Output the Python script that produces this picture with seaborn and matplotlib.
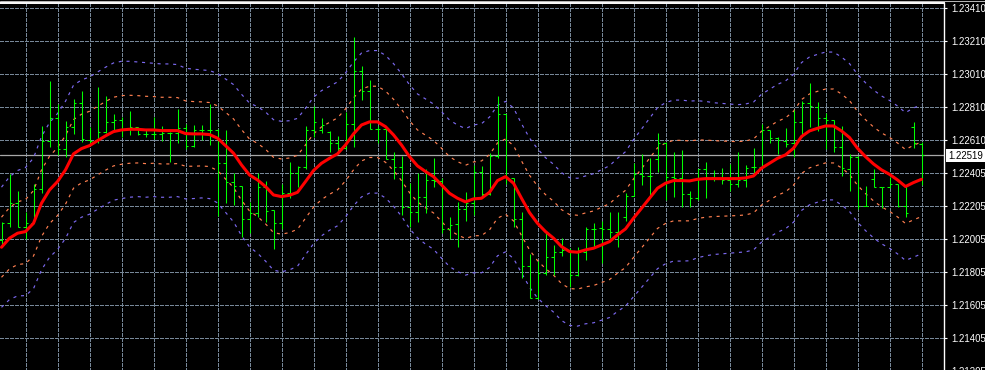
import numpy as np
import pandas as pd
import matplotlib
matplotlib.use("Agg")
import matplotlib.pyplot as plt
import matplotlib.transforms as mtransforms
from matplotlib.patches import Rectangle
from matplotlib.lines import Line2D
from matplotlib import font_manager
import seaborn as sns

# ---------------- data ----------------
opens = [
    1.22004, 1.22105, 1.22227, 1.22085, 1.22109, 1.22311, 1.22606, 1.22742, 1.22558, 1.22691,
    1.22833, 1.22610, 1.22606, 1.22659, 1.22720, 1.22732, 1.22679, 1.22691, 1.22647, 1.22647,
    1.22647, 1.22651, 1.22651, 1.22681, 1.22574, 1.22671, 1.22671, 1.22671, 1.22469, 1.22358,
    1.22332, 1.22130, 1.22166, 1.22328, 1.22186, 1.22105, 1.22287, 1.22408, 1.22449, 1.22671,
    1.22671, 1.22661, 1.22594, 1.22560, 1.22705, 1.23031, 1.22907, 1.22679, 1.22679, 1.22495,
    1.22449, 1.22206, 1.22176, 1.22267, 1.22368, 1.22364, 1.22071, 1.22101, 1.22192, 1.22227,
    1.22419, 1.22281, 1.22513, 1.22766, 1.22378, 1.22130, 1.21847, 1.21651, 1.21802, 1.21899,
    1.21934, 1.21944, 1.21792, 1.21934, 1.22069, 1.22075, 1.22069, 1.22055, 1.22146, 1.22273,
    1.22404, 1.22394, 1.22493, 1.22590, 1.22388, 1.22382, 1.22283, 1.22257, 1.22433, 1.22388,
    1.22382, 1.22368, 1.22344, 1.22368, 1.22449, 1.22449, 1.22671, 1.22621, 1.22604, 1.22590,
    1.22720, 1.22833, 1.22808, 1.22742, 1.22732, 1.22570, 1.22433, 1.22505, 1.22213, 1.22376,
    1.22326, 1.22326, 1.22344, 1.22210, 1.22691, 1.22584,
]
highs = [
    1.22116, 1.22404, 1.22301, 1.22176, 1.22344, 1.22695, 1.22968, 1.22829, 1.22726, 1.22859,
    1.22907, 1.22691, 1.22934, 1.22879, 1.22768, 1.22748, 1.22786, 1.22691, 1.22671, 1.22748,
    1.22695, 1.22661, 1.22798, 1.22707, 1.22701, 1.22701, 1.22829, 1.22675, 1.22671, 1.22408,
    1.22332, 1.22237, 1.22408, 1.22362, 1.22186, 1.22344, 1.22479, 1.22455, 1.22695, 1.22816,
    1.22742, 1.22665, 1.22635, 1.22780, 1.23237, 1.23059, 1.22974, 1.22695, 1.22691, 1.22538,
    1.22513, 1.22348, 1.22408, 1.22433, 1.22499, 1.22378, 1.22142, 1.22237, 1.22293, 1.22459,
    1.22453, 1.22530, 1.22877, 1.22766, 1.22378, 1.22176, 1.21920, 1.21879, 1.22049, 1.21974,
    1.22015, 1.21954, 1.21964, 1.22085, 1.22105, 1.22122, 1.22176, 1.22176, 1.22287, 1.22469,
    1.22524, 1.22499, 1.22655, 1.22600, 1.22538, 1.22550, 1.22303, 1.22433, 1.22475, 1.22429,
    1.22443, 1.22463, 1.22538, 1.22459, 1.22562, 1.22707, 1.22671, 1.22631, 1.22681, 1.22792,
    1.22849, 1.22954, 1.22839, 1.22776, 1.22732, 1.22693, 1.22526, 1.22513, 1.22334, 1.22433,
    1.22328, 1.22388, 1.22344, 1.22332, 1.22722, 1.22600,
]
lows = [
    1.21960, 1.22081, 1.22081, 1.22008, 1.22105, 1.22287, 1.22570, 1.22518, 1.22509, 1.22647,
    1.22598, 1.22586, 1.22594, 1.22651, 1.22671, 1.22627, 1.22641, 1.22643, 1.22631, 1.22614,
    1.22606, 1.22479, 1.22594, 1.22554, 1.22570, 1.22610, 1.22580, 1.22152, 1.22227, 1.22217,
    1.22021, 1.22045, 1.22142, 1.22116, 1.21950, 1.22069, 1.22257, 1.22328, 1.22433, 1.22627,
    1.22651, 1.22540, 1.22546, 1.22558, 1.22570, 1.22853, 1.22675, 1.22590, 1.22493, 1.22372,
    1.22154, 1.22081, 1.22116, 1.22166, 1.22324, 1.22045, 1.22010, 1.21964, 1.22122, 1.22156,
    1.22267, 1.22277, 1.22499, 1.22344, 1.22085, 1.21772, 1.21651, 1.21645, 1.21792, 1.21792,
    1.21907, 1.21722, 1.21786, 1.21883, 1.21954, 1.21863, 1.22015, 1.21960, 1.22122, 1.22273,
    1.22338, 1.22271, 1.22419, 1.22247, 1.22267, 1.22206, 1.22202, 1.22247, 1.22261, 1.22364,
    1.22342, 1.22301, 1.22328, 1.22324, 1.22404, 1.22445, 1.22594, 1.22526, 1.22570, 1.22509,
    1.22627, 1.22691, 1.22665, 1.22554, 1.22536, 1.22394, 1.22303, 1.22190, 1.22210, 1.22324,
    1.22196, 1.22318, 1.22206, 1.22146, 1.22560, 1.22338,
]
closes = [
    1.22105, 1.22227, 1.22085, 1.22109, 1.22311, 1.22606, 1.22742, 1.22558, 1.22691, 1.22833,
    1.22614, 1.22606, 1.22659, 1.22720, 1.22732, 1.22679, 1.22691, 1.22647, 1.22647, 1.22647,
    1.22651, 1.22651, 1.22681, 1.22574, 1.22671, 1.22671, 1.22671, 1.22469, 1.22358, 1.22332,
    1.22130, 1.22166, 1.22328, 1.22180, 1.22105, 1.22287, 1.22408, 1.22449, 1.22671, 1.22720,
    1.22701, 1.22594, 1.22560, 1.22705, 1.23031, 1.22907, 1.22679, 1.22679, 1.22495, 1.22449,
    1.22206, 1.22176, 1.22267, 1.22368, 1.22364, 1.22071, 1.22095, 1.22192, 1.22227, 1.22419,
    1.22281, 1.22513, 1.22766, 1.22378, 1.22130, 1.21847, 1.21651, 1.21802, 1.21899, 1.21934,
    1.21944, 1.21792, 1.21934, 1.22069, 1.22069, 1.22069, 1.22055, 1.22041, 1.22273, 1.22404,
    1.22394, 1.22394, 1.22590, 1.22388, 1.22382, 1.22283, 1.22257, 1.22433, 1.22388, 1.22382,
    1.22368, 1.22344, 1.22368, 1.22439, 1.22449, 1.22671, 1.22621, 1.22610, 1.22586, 1.22720,
    1.22833, 1.22816, 1.22742, 1.22732, 1.22570, 1.22439, 1.22505, 1.22213, 1.22213, 1.22326,
    1.22326, 1.22344, 1.22210, 1.22170, 1.22590, 1.22519,
]
ma_line = [
    1.21960, 1.22015, 1.22045, 1.22055, 1.22105, 1.22227, 1.22307, 1.22358, 1.22429, 1.22526,
    1.22558, 1.22576, 1.22606, 1.22635, 1.22661, 1.22671, 1.22675, 1.22675, 1.22671, 1.22671,
    1.22667, 1.22667, 1.22667, 1.22649, 1.22647, 1.22647, 1.22643, 1.22621, 1.22576, 1.22530,
    1.22459, 1.22398, 1.22368, 1.22328, 1.22277, 1.22267, 1.22275, 1.22293, 1.22358, 1.22425,
    1.22469, 1.22499, 1.22526, 1.22580, 1.22647, 1.22701, 1.22720, 1.22720, 1.22691, 1.22641,
    1.22580, 1.22509, 1.22453, 1.22419, 1.22388, 1.22338, 1.22287, 1.22257, 1.22235, 1.22253,
    1.22257, 1.22293, 1.22364, 1.22388, 1.22348, 1.22257, 1.22170, 1.22105, 1.22055, 1.22015,
    1.21964, 1.21934, 1.21930, 1.21944, 1.21954, 1.21974, 1.21994, 1.22035, 1.22071, 1.22136,
    1.22196, 1.22257, 1.22318, 1.22348, 1.22364, 1.22364, 1.22362, 1.22372, 1.22376, 1.22376,
    1.22376, 1.22376, 1.22376, 1.22380, 1.22392, 1.22439, 1.22469, 1.22499, 1.22520, 1.22560,
    1.22631, 1.22665, 1.22681, 1.22695, 1.22695, 1.22665, 1.22625, 1.22560, 1.22509, 1.22465,
    1.22429, 1.22402, 1.22368, 1.22328, 1.22352, 1.22372,
]
# half-width of the inner (orange) channel; outer (purple) channel is twice as wide
band_width = [
    0.00182, 0.00186, 0.00190, 0.00194, 0.00198, 0.00202, 0.00204, 0.00206, 0.00208, 0.00208,
    0.00208, 0.00208, 0.00208, 0.00208, 0.00208, 0.00208, 0.00206, 0.00204, 0.00204, 0.00202,
    0.00202, 0.00202, 0.00200, 0.00198, 0.00196, 0.00194, 0.00194, 0.00196, 0.00202, 0.00208,
    0.00214, 0.00218, 0.00222, 0.00226, 0.00228, 0.00228, 0.00226, 0.00224, 0.00222, 0.00222,
    0.00220, 0.00218, 0.00218, 0.00218, 0.00218, 0.00218, 0.00216, 0.00216, 0.00216, 0.00216,
    0.00216, 0.00218, 0.00218, 0.00220, 0.00220, 0.00222, 0.00222, 0.00222, 0.00222, 0.00224,
    0.00226, 0.00228, 0.00228, 0.00228, 0.00228, 0.00226, 0.00226, 0.00226, 0.00224, 0.00224,
    0.00224, 0.00224, 0.00224, 0.00224, 0.00226, 0.00228, 0.00230, 0.00232, 0.00234, 0.00238,
    0.00240, 0.00242, 0.00244, 0.00244, 0.00244, 0.00244, 0.00242, 0.00238, 0.00234, 0.00230,
    0.00228, 0.00226, 0.00224, 0.00224, 0.00224, 0.00224, 0.00224, 0.00224, 0.00224, 0.00224,
    0.00224, 0.00224, 0.00224, 0.00224, 0.00224, 0.00224, 0.00224, 0.00224, 0.00224, 0.00224,
    0.00224, 0.00224, 0.00224, 0.00224, 0.00226, 0.00226,
]
bid_price = 1.22519
bid_label = "1.22519"
tick_values = [1.23410, 1.23210, 1.23010, 1.22810, 1.22610, 1.22410,
               1.22210, 1.22010, 1.21810, 1.21610, 1.21410, 1.21210]
tick_labels = ["1.23410", "1.23210", "1.23010", "1.22810", "1.22610", "1.22405",
               "1.22205", "1.22005", "1.21805", "1.21605", "1.21405", "1.21205"]

# ---------------- figure ----------------
W_PX, H_PX = 985, 370
PLOT_RIGHT = 944          # right border of the chart area (px)
BAR_STEP = 8.0            # px per bar
X0 = 1.5                  # px position of bar 0 (pixel centre)
PPP = 0.002 / 33.0        # price per pixel
Y_REF_PX, Y_REF_PRICE = 8.0, 1.23410
ONE_PX = 0.72             # one pixel expressed in points

avail = {f.name for f in font_manager.fontManager.ttflist}
label_font = "Liberation Sans" if "Liberation Sans" in avail else "DejaVu Sans"

sns.set_style("dark")
plt.rcParams["font.family"] = [label_font, "DejaVu Sans"]

fig = plt.figure(figsize=(W_PX / 100, H_PX / 100), dpi=100, facecolor="black")
top_px, bottom_px = 3.0, 380.0
ax = fig.add_axes([0, (H_PX - bottom_px) / H_PX, PLOT_RIGHT / W_PX,
                   (bottom_px - top_px) / H_PX])
ax.set_facecolor("black")

n = len(closes)
idx = np.arange(n)
ax.set_xlim(-X0 / BAR_STEP, (PLOT_RIGHT - X0) / BAR_STEP)
ax.set_ylim(Y_REF_PRICE - (bottom_px - Y_REF_PX) * PPP,
            Y_REF_PRICE + (Y_REF_PX - top_px) * PPP)

# grid
grid_kw = dict(color="#778899", lw=ONE_PX, linestyle=(0, (3, 2)), antialiased=False, zorder=1)
for v in tick_values:
    ax.axhline(v, **grid_kw)
for i in idx[3::4]:
    ax.axvline(i, **grid_kw)

# bid line
ax.axhline(bid_price, color="#a8a8a8", lw=0.9, zorder=2)

# bands and MA (seaborn)
df = pd.DataFrame({
    "bar": idx,
    "ma": ma_line,
    "w": band_width,
})
df["up1"] = df["ma"] + df["w"]
df["dn1"] = df["ma"] - df["w"]
df["up2"] = df["ma"] + 2 * df["w"]
df["dn2"] = df["ma"] - 2 * df["w"]

dot = (0, (2.6, 4.0))
for col in ["up2", "dn2"]:
    sns.lineplot(data=df, x="bar", y=col, ax=ax, color="#7b68ee", lw=0.85,
                 linestyle=dot, errorbar=None, sort=False, zorder=3)
for col in ["up1", "dn1"]:
    sns.lineplot(data=df, x="bar", y=col, ax=ax, color="#ff7f50", lw=0.85,
                 linestyle=dot, errorbar=None, sort=False, zorder=3)

# OHLC bars
bar_kw = dict(color="#00ff00", lw=ONE_PX * 1.05, antialiased=True, zorder=4)
v = ax.vlines(idx, lows, highs, **bar_kw)
v.set_snap(True)
ho = ax.hlines(opens, idx - 0.3, idx, **bar_kw)
hc = ax.hlines(closes, idx, idx + 0.3, **bar_kw)
ho.set_snap(True)
hc.set_snap(True)

sns.lineplot(data=df, x="bar", y="ma", ax=ax, color="#ff0000", lw=2.2,
             errorbar=None, sort=False, zorder=5)

# axes cosmetics
ax.set_xlabel("")
ax.set_ylabel("")
ax.set_xticks([])
ax.yaxis.tick_right()
ax.set_yticks(tick_values)
ax.set_yticklabels(tick_labels)
ax.tick_params(axis="y", colors="white", length=2.5, width=0.8, pad=2.5,
               labelsize=6.9, labelcolor="white")
for side in ["left", "bottom"]:
    ax.spines[side].set_visible(False)
for side in ["top", "right"]:
    ax.spines[side].set_visible(True)
    ax.spines[side].set_color("white")
ax.spines["top"].set_linewidth(1.4)
ax.spines["right"].set_linewidth(1.0)

# bid price label box
trans = mtransforms.blended_transform_factory(fig.transFigure, ax.transData)
box_h = 13 * PPP
fig.patches.append(Rectangle((946 / W_PX, bid_price - box_h / 2), 39 / W_PX, box_h,
                             transform=trans, facecolor="white", edgecolor="none",
                             zorder=10))
fig.text(965.5 / W_PX, bid_price, bid_label, transform=trans, ha="center",
         va="center_baseline", color="black", fontsize=6.9, zorder=11)

# thin grey frame line at the very top
fig.add_artist(Line2D([0, 1], [1 - 0.5 / H_PX] * 2, color="#b4b4b4", lw=0.75))

fig.savefig("out.png", dpi=100, facecolor="black")
